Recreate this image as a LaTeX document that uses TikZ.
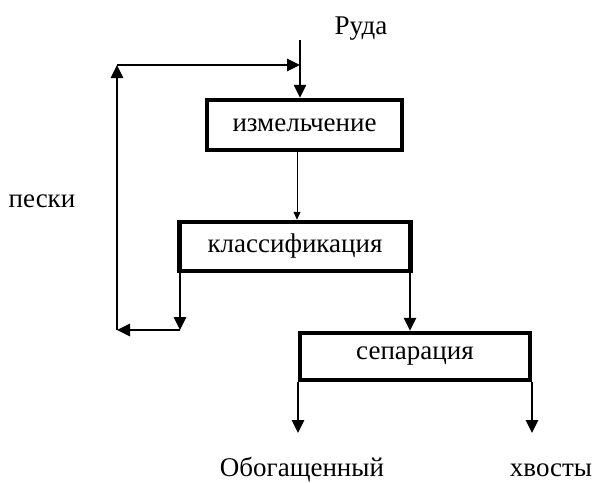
\documentclass[tikz,border=0pt]{standalone}
\usepackage{fontspec}
\setmainfont{Liberation Serif}
\usetikzlibrary{arrows.meta}
\begin{document}
\begin{tikzpicture}[x=1pt,y=-1pt,
  lbl/.style={font=\fontsize{27}{30}\selectfont, inner sep=0pt, anchor=base},
  procbox/.style={draw, line width=4.5pt, rectangle, inner sep=0pt, font=\fontsize{27}{30}\selectfont},
  arr/.style={line width=2.8pt, -{Triangle[length=13pt,width=12pt]}},
  thinarr/.style={line width=0.8pt, -{Triangle[length=8pt,width=7pt]}}]
\useasboundingbox (0,0) rectangle (594,482);
% texts
\node[lbl] (ruda) at (361,34) {Руда};
\node[lbl] (peski) at (42,207) {пески};
\node[lbl] (obog) at (302,476) {Обогащенный};
\node[lbl] (hvost) at (551,476) {хвосты};
% boxes
\node[procbox, minimum width=195pt, minimum height=50pt] (b1) at (304.5,125) {измельчение};
\node[procbox, minimum width=231pt, minimum height=49pt] (b2) at (295,246.5) {классификация};
\node[procbox, minimum width=230pt, minimum height=47pt] (b3) at (415,356.5) {сепарация};
% coordinates
\coordinate (rtop) at (300,40);
\coordinate (lb) at (180,330);
\coordinate (c1) at (117,330);
\coordinate (c2) at (117,65);
\coordinate (c3) at (300,65);
\coordinate (mid) at (297,0);
\coordinate (rb) at (410,0);
\coordinate (o1) at (298,433);
\coordinate (o2) at (532,433);
% connectors
\draw[arr] (rtop) -- (rtop |- b1.north);
\draw[thinarr] (mid |- b1.south) -- (mid |- b2.north);
\draw[arr] (lb |- b2.south) -- (lb);
\draw[arr] (lb) -- (c1);
\draw[arr] (c1) -- (c2);
\draw[arr] (c2) -- (c3);
\draw[arr] (rb |- b2.south) -- (rb |- b3.north);
\draw[arr] (o1 |- b3.south) -- (o1);
\draw[arr] (o2 |- b3.south) -- (o2);
\end{tikzpicture}
\end{document}
